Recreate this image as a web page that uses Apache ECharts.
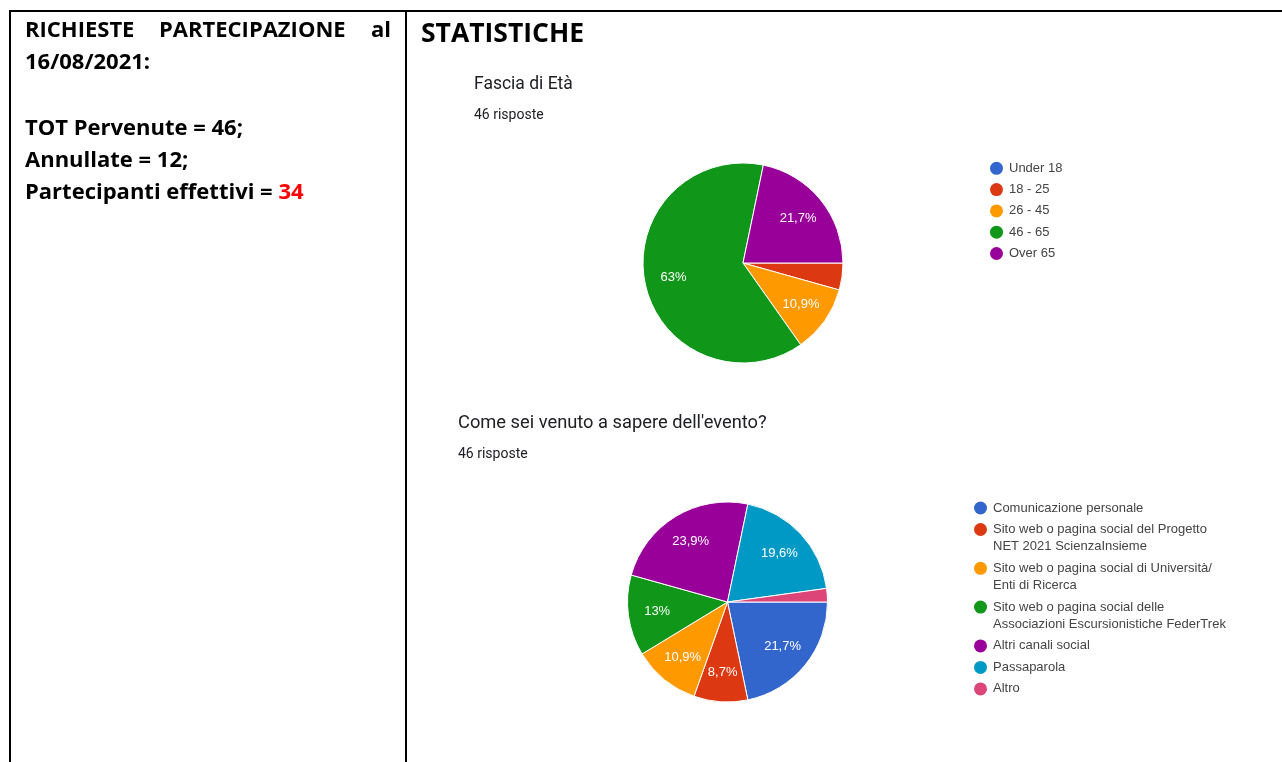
<!DOCTYPE html>
<html>
<head>
<meta charset="utf-8">
<script src="https://cdn.jsdelivr.net/npm/echarts@6/dist/echarts.min.js"></script>
<style>
html, body { margin: 0; padding: 0; background: #fff; }
#main { width: 1282px; height: 762px; }
</style>
</head>
<body>
<div id="main"></div>
<script>
// Fascia di Età
var ageNames = ['Under 18', '18 - 25', '26 - 45', '46 - 65', 'Over 65'];
var ageCounts = [0, 2, 5, 29, 10];
// Come sei venuto a sapere dell'evento?
var sourceNames = [
    'Comunicazione personale',
    'Sito web o pagina social del Progetto\nNET 2021 ScienzaInsieme',
    'Sito web o pagina social di Università/\nEnti di Ricerca',
    'Sito web o pagina social delle\nAssociazioni Escursionistiche FederTrek',
    'Altri canali social',
    'Passaparola',
    'Altro'
];
var sourceCounts = [10, 4, 5, 6, 11, 9, 1];
var totalResponses = 46;

var googleColors = ['#3366cc', '#dc3912', '#ff9900', '#109618', '#990099', '#0099c6', '#dd4477'];

var dom = document.getElementById('main');
var myChart = echarts.init(dom);

function toData(names, values, colored) {
    return names.map(function (n, i) {
        var d = { name: n, value: values[i] };
        if (colored) d.itemStyle = { color: googleColors[i] };
        return d;
    });
}

function pctLabel(p) {
    if (p.percent < 5) return '';
    return String(Number(p.percent.toFixed(1))).replace('.', ',') + '%';
}

// main pie + transparent ring on top that only carries the labels
function pieSeries(names, values, center) {
    return [{
        type: 'pie',
        center: center,
        radius: [0, 100],
        startAngle: 0,
        clockwise: true,
        silent: true,
        label: { show: false },
        labelLine: { show: false },
        itemStyle: { borderColor: '#fff', borderWidth: 1 },
        data: toData(names, values, true)
    }, {
        type: 'pie',
        center: center,
        radius: [36, 100],
        startAngle: 0,
        clockwise: true,
        silent: true,
        percentPrecision: 1,
        itemStyle: { color: 'rgba(0,0,0,0)', borderWidth: 0 },
        label: {
            show: true,
            position: 'inside',
            formatter: pctLabel,
            color: '#fff',
            fontSize: 13,
            fontFamily: 'Liberation Sans, Arial, sans-serif'
        },
        labelLine: { show: false },
        data: toData(names, values, false)
    }];
}

var legendText = {
    color: '#444',
    fontSize: 13,
    fontFamily: 'Liberation Sans, Arial, sans-serif'
};

// one legend per entry for the second chart so wrapped names hang from the first line
var legends = [{
    orient: 'vertical',
    left: 990,
    top: 159.3,
    padding: 0,
    itemWidth: 15,
    itemHeight: 13,
    itemGap: 3.3,
    icon: 'circle',
    selectedMode: false,
    itemStyle: { borderWidth: 0 },
    textStyle: Object.assign({ lineHeight: 18 }, legendText),
    data: ageNames
}];
var iconY = 508;
sourceNames.forEach(function (n) {
    var lines = n.split('\n').length;
    legends.push({
        orient: 'vertical',
        left: 974,
        top: iconY - 8.65 - 17.3 * (lines - 1),
        padding: 0,
        itemWidth: 15,
        itemHeight: 13,
        icon: 'circle',
        selectedMode: false,
        itemStyle: { borderWidth: 0 },
        textStyle: Object.assign({ lineHeight: 17.3 }, legendText),
        // blank first line keeps the icon level with the first text line
        formatter: function (name) { return lines > 1 ? '\n' + name : name; },
        data: [n]
    });
    iconY += 21.5 + 17.3 * (lines - 1);
});

var boldFont = '"Open Sans", sans-serif';
function docText(x, y, text, extra) {
    return {
        type: 'text', x: x, y: y, silent: true,
        style: Object.assign({
            text: text, fontSize: 22, fontWeight: 'bold', fontFamily: boldFont,
            fill: '#000', verticalAlign: 'middle'
        }, extra || {})
    };
}
function formText(x, y, text, size) {
    return {
        type: 'text', x: x, y: y, silent: true,
        style: { text: text, fontSize: size, fontFamily: 'Roboto, sans-serif', fill: '#202124', verticalAlign: 'middle' }
    };
}
function rule(x1, y1, x2, y2) {
    return { type: 'line', silent: true, shape: { x1: x1, y1: y1, x2: x2, y2: y2 }, style: { stroke: '#000', lineWidth: 2 } };
}

option = {
    animation: false,
    backgroundColor: '#fff',
    legend: legends,
    graphic: [
        rule(10, 11, 1282, 11),
        rule(10, 10, 10, 762),
        rule(406, 10, 406, 762),
        docText(25, 31, 'RICHIESTE'),
        docText(159, 31, 'PARTECIPAZIONE'),
        docText(391, 31, 'al', { align: 'right' }),
        docText(25, 63, '16/08/2021:'),
        docText(25, 129, 'TOT Pervenute = 46;'),
        docText(25, 161, 'Annullate = 12;'),
        docText(25, 193, '{a|Partecipanti effettivi = }{b|34}', {
            rich: {
                a: { fontSize: 22, fontWeight: 'bold', fontFamily: boldFont, fill: '#000' },
                b: { fontSize: 22, fontWeight: 'bold', fontFamily: boldFont, fill: '#ff0000' }
            }
        }),
        docText(421, 34, 'STATISTICHE', { fontSize: 26.5 }),
        formText(474, 85, 'Fascia di Età', 17.5),
        formText(474, 115, totalResponses + ' risposte', 14),
        formText(458, 423, "Come sei venuto a sapere dell'evento?", 18.3),
        formText(458, 454.5, totalResponses + ' risposte', 14)
    ],
    series: pieSeries(ageNames, ageCounts, [743, 263])
        .concat(pieSeries(sourceNames, sourceCounts, [727.5, 602]))
};

if (option && typeof option === 'object') {
    myChart.setOption(option, true);
}
window.addEventListener('resize', function () {
    myChart.resize();
});
</script>
</body>
</html>
